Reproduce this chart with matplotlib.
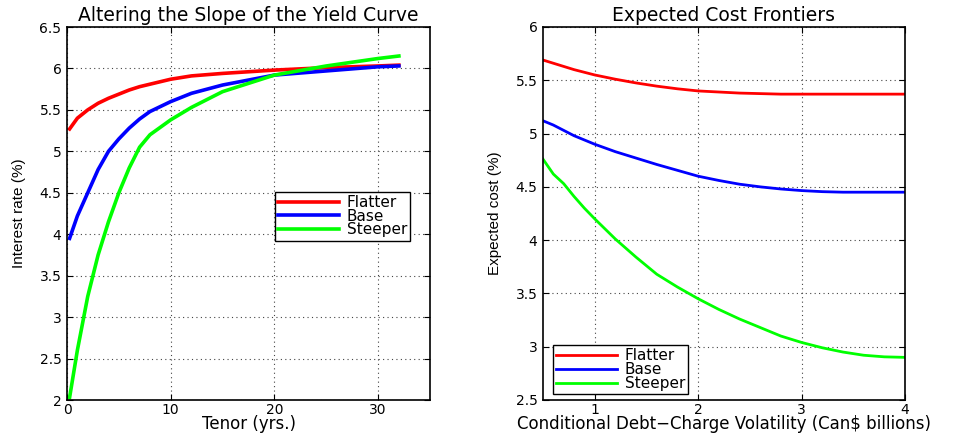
import numpy as np
import matplotlib
matplotlib.use("Agg")
import matplotlib.pyplot as plt

plt.rcParams['font.family'] = ['DejaVu Sans']

# left panel: yield curves
tenor = [0.25, 1, 2, 3, 4, 5, 6, 7, 8, 10, 12, 15, 20, 25, 30, 32]
flatter_curve = [5.27, 5.40, 5.50, 5.58, 5.64, 5.69, 5.74, 5.78, 5.81, 5.87, 5.91, 5.94, 5.98, 6.01, 6.03, 6.04]
base_curve = [3.95, 4.22, 4.50, 4.78, 5.00, 5.15, 5.28, 5.39, 5.48, 5.60, 5.70, 5.80, 5.92, 5.97, 6.02, 6.03]
steeper_curve = [2.03, 2.60, 3.25, 3.75, 4.15, 4.50, 4.80, 5.05, 5.20, 5.38, 5.53, 5.72, 5.92, 6.03, 6.12, 6.15]

# right panel: expected cost frontiers
vol = [0.5, 0.6, 0.7, 0.8, 0.9, 1.0, 1.2, 1.4, 1.6, 1.8, 2.0, 2.2, 2.4, 2.6, 2.8, 3.0,
       3.2, 3.4, 3.6, 3.8, 4.0]
flatter_cost = [5.69, 5.66, 5.63, 5.60, 5.575, 5.55, 5.51, 5.475, 5.445, 5.42, 5.40, 5.39, 5.38,
                5.375, 5.37, 5.37, 5.37, 5.37, 5.37, 5.37, 5.37]
base_cost = [5.12, 5.08, 5.03, 4.98, 4.94, 4.90, 4.83, 4.77, 4.71, 4.655, 4.60, 4.56, 4.525,
             4.50, 4.48, 4.465, 4.455, 4.45, 4.45, 4.45, 4.45]
steeper_cost = [4.76, 4.62, 4.53, 4.41, 4.30, 4.20, 4.01, 3.84, 3.68, 3.56, 3.45, 3.35, 3.26,
                3.18, 3.10, 3.04, 2.99, 2.95, 2.92, 2.905, 2.90]

labels = ["Flatter", "Base", "Steeper"]
colors = ["#ff0000", "#0000ff", "#00ff00"]

W, H = 955, 433
fig = plt.figure(figsize=(W / 100, H / 100), dpi=100)
ax1 = fig.add_axes([67 / W, 33 / H, 363 / W, 373 / H])
ax2 = fig.add_axes([543 / W, 33 / H, 362 / W, 373 / H])


def style(ax):
    ax.grid(True, linestyle=(0, (1, 3)), color="#444444", linewidth=0.8)
    ax.tick_params(direction="in", top=True, right=True, labelsize=10, length=4)
    ax.tick_params(axis="x", pad=2)
    ax.tick_params(axis="y", pad=4)
    for s in ax.spines.values():
        s.set_linewidth(1.2)


def add_legend(ax, loc, anchor):
    leg = ax.legend(loc=loc, bbox_to_anchor=anchor, fontsize=11, fancybox=False,
                    edgecolor="black", framealpha=1, handlelength=4.0, handletextpad=0.5,
                    borderpad=0.2, labelspacing=-0.08, borderaxespad=0)
    leg.get_frame().set_linewidth(1.0)


for ys, lab, c in zip([flatter_curve, base_curve, steeper_curve], labels, colors):
    ax1.plot(tenor, ys, color=c, linewidth=2.6, label=lab)
ax1.set_xlim(0, 35)
ax1.set_ylim(2, 6.5)
ax1.set_xticks([0, 10, 20, 30])
ax1.set_yticks(np.arange(2, 6.51, 0.5))
ax1.set_yticklabels(["2", "2.5", "3", "3.5", "4", "4.5", "5", "5.5", "6", "6.5"])
ax1.set_title("Altering the Slope of the Yield Curve", fontsize=13.5, pad=4)
ax1.set_xlabel("Tenor (yrs.)", fontsize=12, labelpad=-1)
ax1.set_ylabel("Interest rate (%)", fontsize=11, labelpad=10, family=["Liberation Sans"])
style(ax1)
add_legend(ax1, "upper left", (0.573, 0.558))

for ys, lab, c in zip([flatter_cost, base_cost, steeper_cost], labels, colors):
    ax2.plot(vol, ys, color=c, linewidth=2.0, label=lab)
ax2.set_xlim(0.5, 4)
ax2.set_ylim(2.5, 6)
ax2.set_xticks([1, 2, 3, 4])
ax2.set_yticks(np.arange(2.5, 6.01, 0.5))
ax2.set_yticklabels(["2.5", "3", "3.5", "4", "4.5", "5", "5.5", "6"])
ax2.set_title("Expected Cost Frontiers", fontsize=13.5, pad=4)
ax2.set_xlabel("Conditional Debt\u2212Charge Volatility (Can$ billions)", fontsize=12, labelpad=-1)
ax2.set_ylabel("Expected cost (%)", fontsize=11, labelpad=10, family=["Liberation Sans"])
style(ax2)
add_legend(ax2, "lower left", (0.028, 0.016))

fig.savefig("out.png", dpi=100)
